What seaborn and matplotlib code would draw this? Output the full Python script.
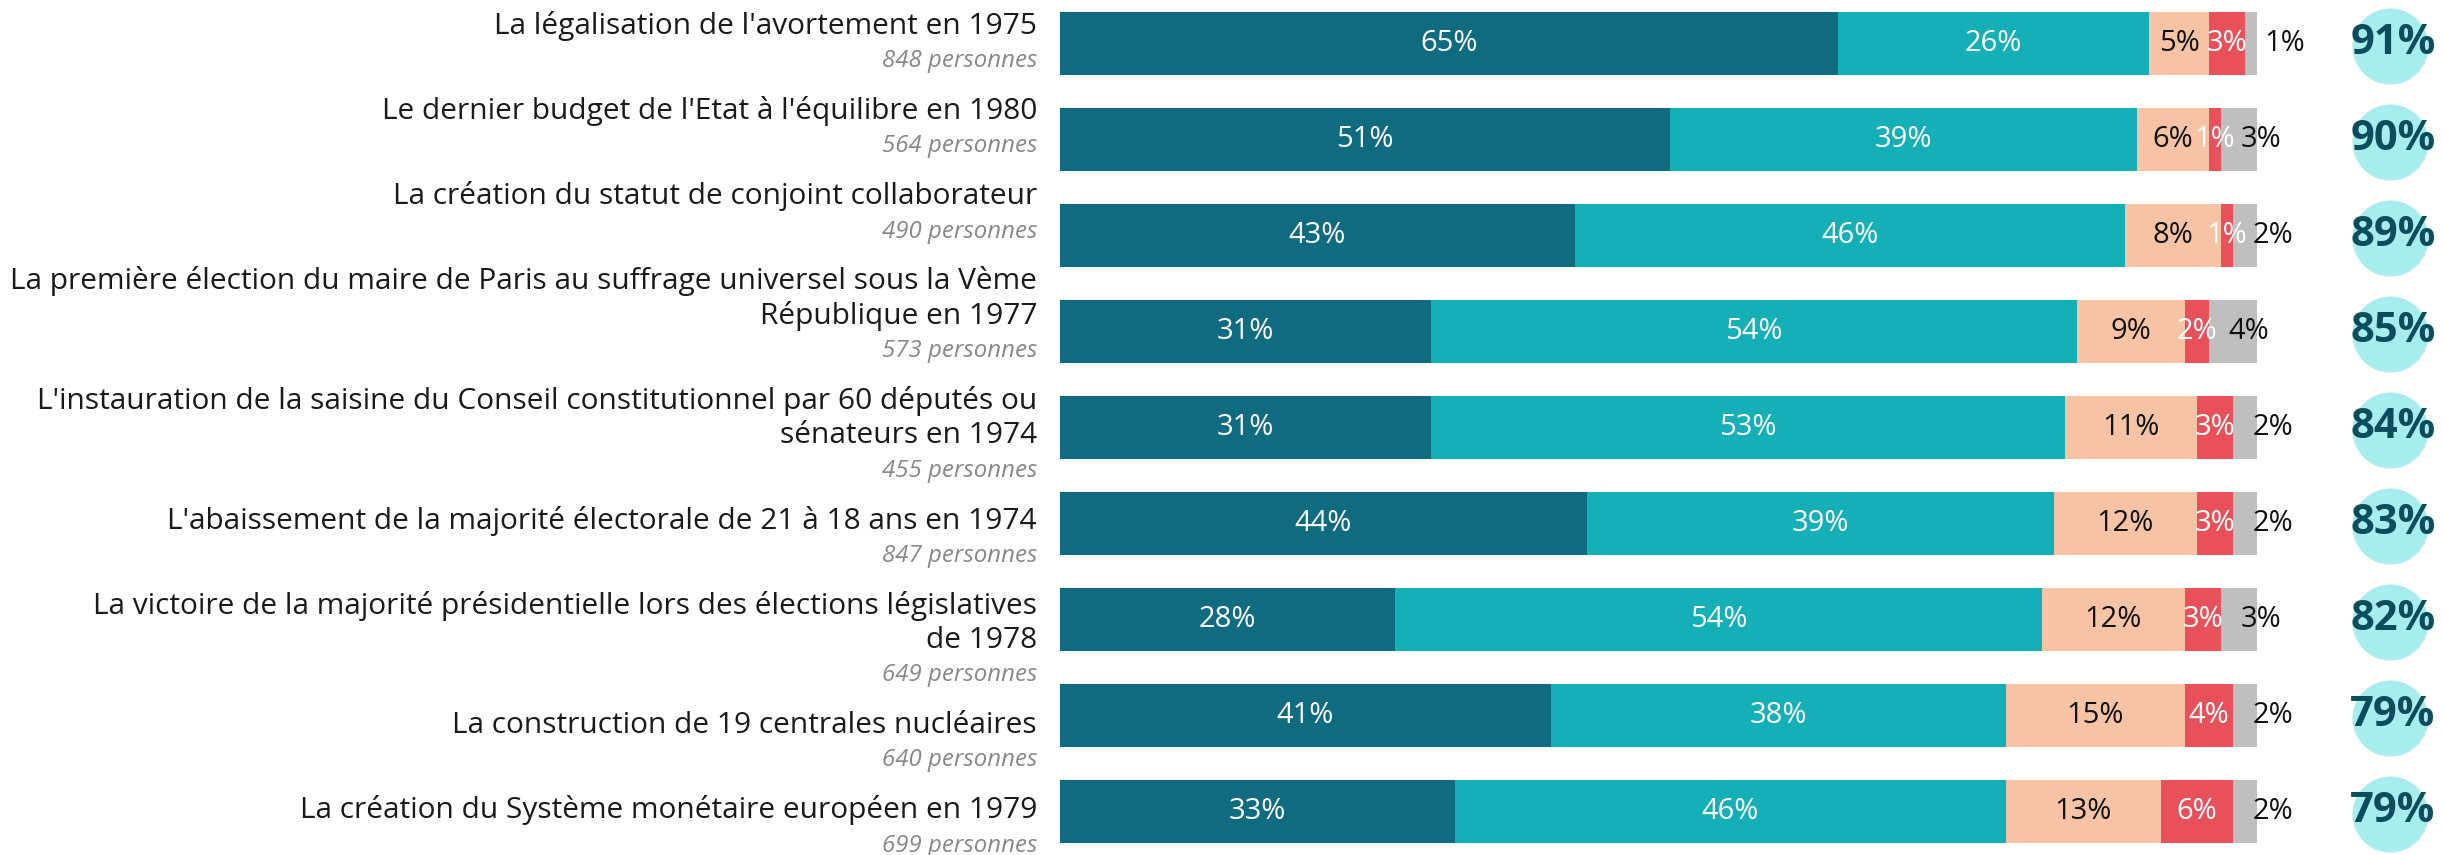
import numpy as np
import pandas as pd
import seaborn as sns
import matplotlib.pyplot as plt

# ---- data ----
events = [
    "La légalisation de l'avortement en 1975",
    "Le dernier budget de l'Etat à l'équilibre en 1980",
    "La création du statut de conjoint collaborateur",
    "La première élection du maire de Paris au suffrage universel sous la Vème\nRépublique en 1977",
    "L'instauration de la saisine du Conseil constitutionnel par 60 députés ou\nsénateurs en 1974",
    "L'abaissement de la majorité électorale de 21 à 18 ans en 1974",
    "La victoire de la majorité présidentielle lors des élections législatives\nde 1978",
    "La construction de 19 centrales nucléaires",
    "La création du Système monétaire européen en 1979",
]
respondents = [848, 564, 490, 573, 455, 847, 649, 640, 699]

series = ["Très positif", "Plutôt positif", "Plutôt négatif", "Très négatif", "Ne sait pas"]
tres_positif = [65, 51, 43, 31, 31, 44, 28, 41, 33]
plutot_positif = [26, 39, 46, 54, 53, 39, 54, 38, 46]
plutot_negatif = [5, 6, 8, 9, 11, 12, 12, 15, 13]
tres_negatif = [3, 1, 1, 2, 3, 3, 3, 4, 6]
ne_sait_pas = [1, 3, 2, 4, 2, 2, 3, 2, 2]

colors = ["#0f6b80", "#14afb7", "#f6c4a4", "#e8505a", "#bfbfbf"]
text_colors = ["white", "white", "#111111", "white", "#111111"]

W, H = 2443, 855

df = pd.DataFrame({
    "evenement": events,
    series[0]: tres_positif,
    series[1]: plutot_positif,
    series[2]: plutot_negatif,
    series[3]: tres_negatif,
    series[4]: ne_sait_pas,
})
cum = df[series].cumsum(axis=1)
cum["evenement"] = df["evenement"]
positive = df[series[0]] + df[series[1]]

sns.set_theme(style="white")
plt.rcParams["font.family"] = ["Open Sans", "DejaVu Sans"]

fig = plt.figure(figsize=(W / 100, H / 100), dpi=100)
ax = fig.add_axes([1060 / W, 0, 1197 / W, 1])

# stacked bars: draw cumulative totals from the longest down
for name, color in reversed(list(zip(series, colors))):
    sns.barplot(data=cum, x=name, y="evenement", color=color, saturation=1,
                width=0.656, orient="h", linewidth=0, ax=ax)

ax.set_xlim(0, 100)
ax.set_ylim(8.453, -0.453)
ax.set_axis_off()

# value labels inside segments (the grey one sits just past its start)
for i in range(len(events)):
    for k, name in enumerate(series):
        v = df[name].iloc[i]
        end = cum[name].iloc[i]
        start = end - v
        if k == 4:
            ax.text(start + 1.6, i, f"{v}%", ha="left", va="center",
                    fontsize=21, color=text_colors[k])
        else:
            ax.text(start + v / 2, i, f"{v}%", ha="center", va="center",
                    fontsize=21, color=text_colors[k])

# bubbles with the share of positive answers
ax.scatter(np.full(len(events), 111.1), np.arange(len(events)) + 0.03, s=3000,
           color="#a8eded", linewidths=0, clip_on=False, zorder=3)
for i, p in enumerate(positive):
    ax.text(111.35, i, f"{p}%", ha="center", va="center", fontsize=30,
            fontweight="bold", color="#0b4d5c", clip_on=False, zorder=4)

# event titles and sample sizes, stacked down the left side
label_x = 1037 / W
y = 34.0
for ev, n in zip(events, respondents):
    lines = ev.split("\n")
    for j, line in enumerate(lines):
        fig.text(label_x, 1 - y / H, line, ha="right", va="baseline",
                 fontsize=21.5, color="#1a1a1a")
        if j < len(lines) - 1:
            y += 34.5
    y += 33.3
    fig.text(label_x, 1 - y / H, f"{n} personnes", ha="right", va="baseline",
             fontsize=17.3, style="italic", color="#888888")
    y += 51.8

fig.savefig("out.png", dpi=100)
